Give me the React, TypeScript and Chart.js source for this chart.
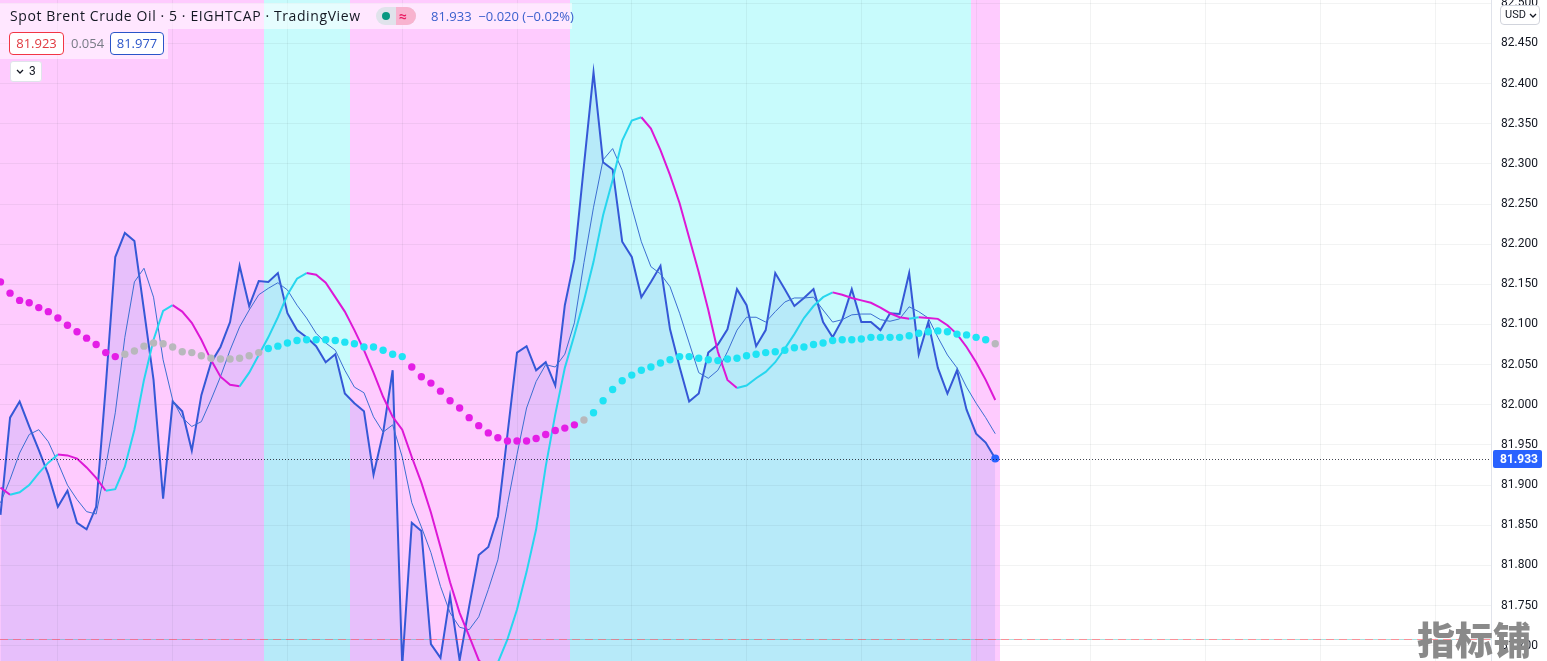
import React, { useEffect, useRef } from "react";
import { Chart, registerables } from "chart.js";

Chart.register(...registerables);

// ---- data (5-minute bars, index 0..104) ----
const price = [
  81.863, 81.984, 82.004, 81.973, 81.944, 81.913, 81.873, 81.893, 81.853, 81.845,
  81.873, 82.022, 82.184, 82.214, 82.204, 82.118, 82.031, 81.883, 82.004, 81.992,
  81.943, 82.012, 82.052, 82.072, 82.103, 82.173, 82.123, 82.154, 82.153, 82.164,
  82.114, 82.093, 82.084, 82.073, 82.053, 82.063, 82.014, 82.002, 81.992, 81.913,
  81.965, 82.043, 81.675, 81.853, 81.843, 81.702, 81.685, 81.762, 81.682, 81.749,
  81.813, 81.823, 81.861, 81.963, 82.065, 82.073, 82.043, 82.053, 82.024, 82.124,
  82.181, 82.298, 82.414, 82.302, 82.293, 82.203, 82.184, 82.134, 82.153, 82.173,
  82.094, 82.047, 82.004, 82.014, 82.065, 82.075, 82.094, 82.144, 82.124, 82.073,
  82.093, 82.164, 82.144, 82.123, 82.133, 82.144, 82.103, 82.084, 82.106, 82.144,
  82.103, 82.103, 82.093, 82.114, 82.113, 82.164, 82.063, 82.103, 82.046, 82.014,
  82.043, 81.994, 81.964, 81.953, 81.933,
];

const fastAvg = [
  81.878, 81.907, 81.940, 81.963, 81.969, 81.954, 81.928, 81.900, 81.882, 81.867,
  81.864, 81.923, 81.990, 82.084, 82.153, 82.170, 82.134, 82.056, 82.006, 81.984,
  81.973, 81.979, 82.006, 82.035, 82.068, 82.097, 82.118, 82.137, 82.145, 82.152,
  82.143, 82.124, 82.108, 82.089, 82.077, 82.068, 82.043, 82.022, 82.015, 81.985,
  81.966, 81.975, 81.935, 81.878, 81.848, 81.816, 81.774, 81.741, 81.723, 81.720,
  81.736, 81.770, 81.807, 81.876, 81.938, 81.996, 82.029, 82.050, 82.047, 82.063,
  82.102, 82.177, 82.246, 82.305, 82.319, 82.292, 82.246, 82.203, 82.172, 82.163,
  82.147, 82.114, 82.077, 82.040, 82.033, 82.043, 82.066, 82.093, 82.109, 82.109,
  82.103, 82.116, 82.128, 82.133, 82.133, 82.134, 82.118, 82.103, 82.106, 82.112,
  82.113, 82.113, 82.106, 82.104, 82.107, 82.122, 82.116, 82.108, 82.084, 82.062,
  82.046, 82.022, 82.002, 81.984, 81.964,
];

const smoothAvg = [
  81.897, 81.888, 81.891, 81.900, 81.915, 81.928, 81.938, 81.937, 81.933, 81.922,
  81.909, 81.893, 81.895, 81.923, 81.969, 82.031, 82.081, 82.117, 82.124, 82.116,
  82.102, 82.081, 82.056, 82.035, 82.025, 82.023, 82.040, 82.062, 82.084, 82.109,
  82.137, 82.157, 82.164, 82.162, 82.152, 82.134, 82.116, 82.093, 82.068, 82.040,
  82.010, 81.985, 81.969, 81.935, 81.903, 81.866, 81.823, 81.779, 81.741, 81.712,
  81.682, 81.670, 81.679, 81.708, 81.745, 81.792, 81.845, 81.923, 81.988, 82.046,
  82.087, 82.130, 82.178, 82.236, 82.280, 82.329, 82.354, 82.358, 82.344, 82.317,
  82.286, 82.251, 82.208, 82.165, 82.118, 82.066, 82.031, 82.021, 82.024, 82.033,
  82.041, 82.053, 82.070, 82.088, 82.108, 82.123, 82.134, 82.140, 82.137, 82.133,
  82.130, 82.127, 82.121, 82.114, 82.109, 82.107, 82.109, 82.108, 82.107, 82.099,
  82.088, 82.072, 82.053, 82.031, 82.006,
];

const dotLine = [
  82.153, 82.139, 82.130, 82.127, 82.121, 82.116, 82.108, 82.099, 82.091, 82.083,
  82.075, 82.065, 82.060, 82.063, 82.067, 82.073, 82.077, 82.076, 82.072, 82.066,
  82.065, 82.061, 82.058, 82.057, 82.057, 82.058, 82.061, 82.065, 82.070, 82.073,
  82.077, 82.080, 82.081, 82.081, 82.081, 82.080, 82.078, 82.076, 82.072, 82.072,
  82.068, 82.063, 82.060, 82.047, 82.035, 82.027, 82.017, 82.005, 81.996, 81.984,
  81.974, 81.965, 81.959, 81.955, 81.955, 81.955, 81.958, 81.963, 81.968, 81.971,
  81.975, 81.981, 81.990, 82.005, 82.019, 82.030, 82.037, 82.043, 82.047, 82.052,
  82.056, 82.060, 82.060, 82.058, 82.056, 82.055, 82.057, 82.058, 82.061, 82.063,
  82.065, 82.066, 82.068, 82.071, 82.072, 82.075, 82.077, 82.080, 82.081, 82.081,
  82.082, 82.084, 82.084, 82.084, 82.084, 82.086, 82.089, 82.091, 82.092, 82.091,
  82.088, 82.087, 82.084, 82.081, 82.076,
];

// trend state runs: [state, count]  (-1 down, 0 neutral, 1 up)
const dotTrendRuns: [number, number][] = [[-1, 13], [0, 15], [1, 15], [-1, 18], [0, 1], [1, 42], [0, 1]];
const bandTrendRuns: [number, number][] = [[-1, 28], [1, 9], [-1, 23], [1, 42], [-1, 3]];

const hourBars = [6, 18, 30, 42, 54, 66, 78, 90, 102, 114, 126, 138, 150];
const lastPrice = 81.933;
const lowLevel = 81.709;
const yMin = 81.681;
const yMax = 82.504;
const yStep = 0.05;

const headerTitle = "Spot Brent Crude Oil · 5 · EIGHTCAP · TradingView";
const headerQuote = ["81.933", "−0.020", "(−0.02%)"];
const bidValue = "81.923";
const spreadValue = "0.054";
const askValue = "81.977";
const indicatorCount = "3";
const currency = "USD";
const watermark = "指标铺";

function expandRuns(runs: [number, number][]): number[] {
  const out: number[] = [];
  runs.forEach(([s, n]) => {
    for (let k = 0; k < n; k++) out.push(s);
  });
  return out;
}

const dotTrend = expandRuns(dotTrendRuns);
const bandTrend = expandRuns(bandTrendRuns);

const BAND_DOWN = "#fecbfe";
const BAND_UP = "#c8fbfc";
const UP = "#27d6ee";
const DOWN = "#dd18d6";
const DOT_UP = "#1fe3f4";
const DOT_DOWN = "#e41ee6";
const DOT_FLAT = "#b8b8bc";
const GRID = "rgba(42,46,57,0.06)";
const FONT = "Roboto, 'Noto Sans', sans-serif";
const HEAD_FONT = "'Open Sans', Roboto, sans-serif";

const pts = (arr: number[]) => arr.map((y, i) => ({ x: i, y }));

const zeroPad = (s: any) => {
  s.paddingTop = 0;
  s.paddingBottom = 0;
  s.paddingLeft = 0;
  s.paddingRight = 0;
};

const overlayPlugin = {
  id: "overlayPlugin",
  beforeDraw(chart: any) {
    const { ctx, chartArea: a, scales } = chart;
    const x = scales.x;
    ctx.save();
    ctx.fillStyle = "#ffffff";
    ctx.fillRect(0, 0, chart.width, chart.height);
    bandTrend.forEach((s, i) => {
      const l = Math.round(x.getPixelForValue(i - 0.5));
      const r = Math.round(x.getPixelForValue(i + 0.5));
      const L = Math.max(l, a.left);
      ctx.fillStyle = s > 0 ? BAND_UP : BAND_DOWN;
      ctx.fillRect(L, a.top, r - L, a.bottom - a.top);
    });
    ctx.restore();
  },
  afterDatasetsDraw(chart: any) {
    const { ctx, chartArea: a, scales } = chart;
    const y = scales.y;
    ctx.save();
    const ly = Math.round(y.getPixelForValue(lowLevel)) + 0.5;
    ctx.lineWidth = 1;
    ctx.setLineDash([8, 5]);
    ctx.strokeStyle = "rgba(242,54,69,0.55)";
    ctx.beginPath();
    ctx.moveTo(a.left, ly);
    ctx.lineTo(a.right, ly);
    ctx.stroke();
    ctx.setLineDash([5, 8]);
    ctx.lineDashOffset = -8;
    ctx.strokeStyle = "rgba(8,170,160,0.35)";
    ctx.beginPath();
    ctx.moveTo(a.left, ly);
    ctx.lineTo(a.right, ly);
    ctx.stroke();
    const py = Math.round(y.getPixelForValue(lastPrice)) + 0.5;
    ctx.lineDashOffset = 0;
    ctx.setLineDash([1, 2]);
    ctx.strokeStyle = "rgba(19,23,34,0.8)";
    ctx.beginPath();
    ctx.moveTo(a.left, py);
    ctx.lineTo(a.right, py);
    ctx.stroke();
    ctx.restore();
  },
  afterDraw(chart: any) {
    const { ctx, chartArea: a, scales } = chart;
    const y = scales.y;
    const py = y.getPixelForValue(lastPrice);
    ctx.save();
    ctx.fillStyle = "#2962ff";
    const bx = a.right + 2;
    ctx.beginPath();
    (ctx as any).roundRect(bx, Math.round(py) - 9, 49, 18, 2);
    ctx.fill();
    ctx.fillStyle = "#ffffff";
    ctx.font = "bold 12px " + FONT;
    ctx.textBaseline = "middle";
    ctx.textAlign = "left";
    ctx.fillText(lastPrice.toFixed(3), bx + 7, Math.round(py) + 0.5);
    ctx.restore();
  },
};

function Chevron({ x, y }: { x: number; y: number }) {
  return (
    <svg width="8" height="6" style={{ position: "absolute", left: x, top: y }}>
      <polyline points="1,1 4,4 7,1" fill="none" stroke="#131722" strokeWidth="1.3" />
    </svg>
  );
}

export default function App() {
  const ref = useRef<HTMLCanvasElement | null>(null);

  useEffect(() => {
    if (!ref.current) return;
    Chart.defaults.font.family = FONT;
    const chart = new Chart(ref.current, {
      type: "line",
      data: {
        datasets: [
          {
            label: "dots",
            data: pts(dotLine),
            showLine: false,
            pointRadius: 3.7,
            pointBorderWidth: 0,
            pointBackgroundColor: dotTrend.map((s) => (s > 0 ? DOT_UP : s < 0 ? DOT_DOWN : DOT_FLAT)),
          } as any,
          {
            label: "smooth",
            data: pts(smoothAvg),
            borderWidth: 2,
            pointRadius: 0,
            borderColor: UP,
            segment: {
              borderColor: (c: any) => (c.p1.parsed.y > c.p0.parsed.y ? UP : DOWN),
            },
          } as any,
          {
            label: "fast",
            data: pts(fastAvg),
            borderWidth: 1,
            pointRadius: 0,
            borderColor: "#3c6fd2",
          },
          {
            label: "price",
            data: pts(price),
            borderWidth: 2,
            borderColor: "#3558d6",
            backgroundColor: "rgba(50,100,225,0.11)",
            fill: "start",
            pointRadius: price.map((_, i) => (i === price.length - 1 ? 4 : 0)),
            pointBackgroundColor: "#2962ff",
            pointBorderWidth: 0,
          } as any,
        ],
      },
      options: {
        animation: false,
        responsive: false,
        events: [],
        layout: { padding: 0, autoPadding: false },
        plugins: { legend: { display: false }, tooltip: { enabled: false } },
        scales: {
          x: {
            type: "linear",
            min: -0.052,
            max: 155.83,
            ticks: { display: false },
            border: { display: false },
            grid: { color: GRID, drawTicks: false },
            afterBuildTicks: (s: any) => {
              s.ticks = hourBars.map((v) => ({ value: v }));
            },
            afterFit: (s: any) => {
              s.height = 0;
              zeroPad(s);
            },
          },
          y: {
            position: "right",
            min: yMin,
            max: yMax,
            ticks: {
              stepSize: yStep,
              includeBounds: false,
              padding: 10,
              color: "#131722",
              font: { size: 12, family: FONT },
              callback: (v: any) => Number(v).toFixed(3),
              autoSkip: false,
            },
            border: { display: true, color: "#e0e3eb" },
            grid: { color: GRID, drawTicks: false },
            afterFit: (s: any) => {
              s.width = 56;
              zeroPad(s);
            },
          },
        },
      } as any,
      plugins: [overlayPlugin],
    });
    return () => chart.destroy();
  }, []);

  const txt: React.CSSProperties = { position: "absolute", fontFamily: FONT, whiteSpace: "nowrap" };

  return (
    <div style={{ position: "fixed", left: 0, top: 0, width: 1547, height: 661, overflow: "hidden", background: "#fff" }}>
      <canvas ref={ref} width={1547} height={661} style={{ position: "absolute", left: 0, top: 0 }} />
      {/* header row 1 */}
      <div style={{ position: "absolute", left: 0, top: 3, width: 572, height: 26, background: "rgba(255,255,255,0.55)" }} />
      <div style={{ ...txt, left: 10, top: 6, fontSize: 14, color: "#131722", lineHeight: "19px", fontFamily: HEAD_FONT, letterSpacing: 0.6 }}>{headerTitle}</div>
      <div style={{ position: "absolute", left: 376, top: 7, width: 40, height: 18, borderRadius: 9, background: "#e0e3eb", overflow: "hidden" }}>
        <div style={{ position: "absolute", left: 20, top: 0, width: 20, height: 18, background: "#f8b3cf" }} />
        <div style={{ position: "absolute", left: 6, top: 5, width: 8, height: 8, borderRadius: 4, background: "#089981" }} />
        <div style={{ ...txt, left: 23, top: 0, fontSize: 14, lineHeight: "18px", color: "#e91e63", fontWeight: 700 }}>≈</div>
      </div>
      <div style={{ ...txt, left: 431, top: 7, fontSize: 13, color: "#3a5fcd", lineHeight: "18px", fontFamily: HEAD_FONT }}>
        {headerQuote[0]}&nbsp;&nbsp;{headerQuote[1]} {headerQuote[2]}
      </div>
      {/* header row 2 */}
      <div style={{ position: "absolute", left: 0, top: 29, width: 168, height: 30, background: "rgba(255,255,255,0.55)" }} />
      <div style={{ ...txt, left: 9, top: 32, width: 53, height: 21, border: "1px solid #f23645", borderRadius: 4, color: "#e0393f", fontSize: 13, lineHeight: "21px", textAlign: "center", background: "#fff", fontFamily: HEAD_FONT }}>{bidValue}</div>
      <div style={{ ...txt, left: 71, top: 33, fontSize: 13, lineHeight: "21px", color: "#787b86", fontFamily: HEAD_FONT }}>{spreadValue}</div>
      <div style={{ ...txt, left: 110, top: 32, width: 52, height: 21, border: "1px solid #2a55c9", borderRadius: 4, color: "#2a55c9", fontSize: 13, lineHeight: "21px", textAlign: "center", background: "#fff", fontFamily: HEAD_FONT }}>{askValue}</div>
      {/* header row 3 */}
      <div style={{ position: "absolute", left: 10, top: 61, width: 30, height: 19, border: "1px solid #e0e3eb", borderRadius: 3, background: "#fff" }}>
        <Chevron x={5} y={7} />
        <div style={{ ...txt, left: 18, top: 0, fontSize: 12, lineHeight: "19px", color: "#131722" }}>{indicatorCount}</div>
      </div>
      {/* currency box */}
      <div style={{ position: "absolute", left: 1500, top: 5, width: 38, height: 18, border: "1px solid #d1d4dc", borderRadius: 4, background: "#fff" }}>
        <div style={{ ...txt, left: 4, top: 0, fontSize: 11, lineHeight: "18px", color: "#131722" }}>{currency}</div>
        <Chevron x={28} y={7} />
      </div>
      {/* watermark */}
      <div style={{ ...txt, left: 1417, top: 617, fontSize: 38, lineHeight: "42px", fontWeight: 900, color: "#8a8a8a", fontFamily: "'Noto Sans CJK SC', sans-serif" }}>{watermark}</div>
    </div>
  );
}
